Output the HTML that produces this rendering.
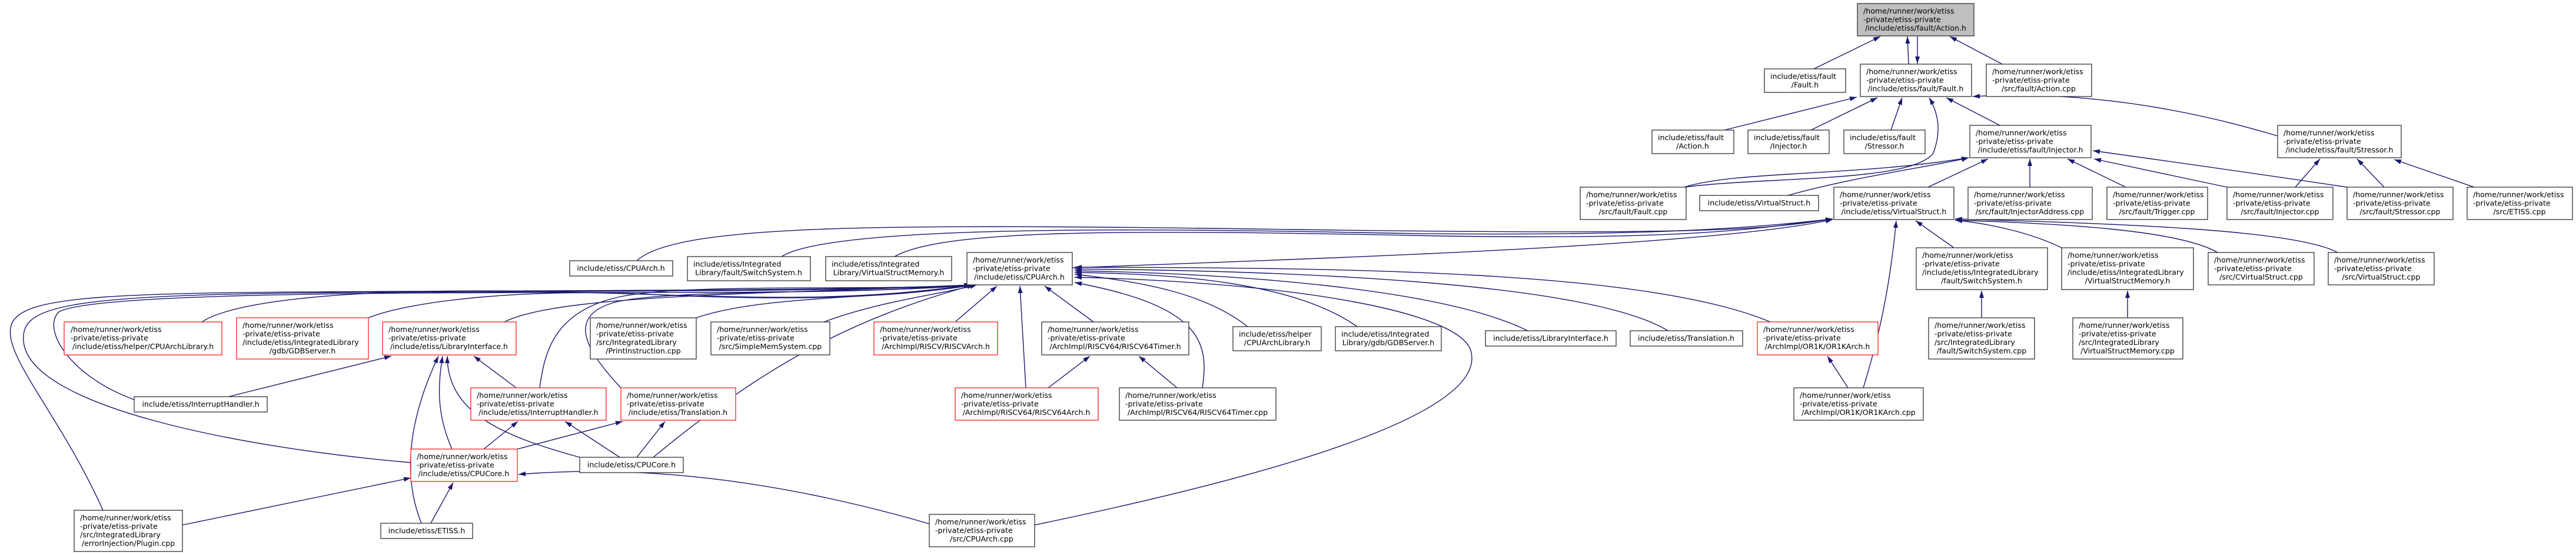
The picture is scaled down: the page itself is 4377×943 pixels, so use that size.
<!DOCTYPE html>
<html><head><meta charset="utf-8"><style>
html,body{margin:0;padding:0;background:#fff;}
svg{display:block;}
text{font-family:"DejaVu Sans","Liberation Sans",sans-serif;font-size:12.6px;fill:#000;}
.c{text-anchor:middle;}
.b{fill:#fff;stroke:#333;stroke-width:1.3;}
.r{fill:#fff;stroke:#ff3030;stroke-width:1.4;}
.g{fill:#bfbfbf;stroke:#333;stroke-width:1.3;}
path.e{fill:none;stroke:#191970;stroke-width:1.4;marker-end:url(#a);}
</style></head><body>
<svg width="4377" height="943" viewBox="0 0 4377 943" xmlns="http://www.w3.org/2000/svg">
<defs><marker id="a" markerUnits="userSpaceOnUse" markerWidth="12" markerHeight="8" refX="12" refY="4" orient="auto"><path d="M0,0 L12,4 L0,8 z" fill="#191970"/></marker></defs>

<!-- edges -->
<path class="e" d="M3082,117 L3195,62"/>
<path class="e" d="M3243,109 L3241,62"/>
<path class="e" d="M3258,62 L3258,108"/>
<path class="e" d="M3402,109 L3313,62"/>
<path class="e" d="M2930,221 L3155,165"/>
<path class="e" d="M3077,221 L3190,166"/>
<path class="e" d="M3213,221 L3232,166"/>
<path class="e" d="M3398,213 L3307,166"/>
<path class="e" d="M3870,231 Q3600,150 3352,164"/>
<path class="e" d="M2862,318 C3000,300 3250,310 3285,260 C3300,220 3292,190 3278,166"/>
<path class="e" d="M2862,318 C2950,290 3150,300 3345,268"/>
<path class="e" d="M3038,332 C3150,300 3300,280 3345,268"/>
<path class="e" d="M3276,318 L3378,270"/>
<path class="e" d="M3449,318 L3449,270"/>
<path class="e" d="M3612,318 L3513,270"/>
<path class="e" d="M3784,318 L3558,270"/>
<path class="e" d="M3988,318 Q3800,290 3556,256"/>
<path class="e" d="M3900,318 L3942,270"/>
<path class="e" d="M4051,318 L4005,270"/>
<path class="e" d="M4204,318 L4068,271"/>

<path class="e" d="M1082,443 C1150,380 1500,380 2200,390 S3000,390 3114,372"/>
<path class="e" d="M1328,436 C1400,390 1800,385 2300,395 S3000,385 3114,372"/>
<path class="e" d="M1520,436 C1600,390 1900,390 2400,400 S3000,385 3114,372"/>
<path class="e" d="M1822,455 C2200,440 2900,420 3114,373"/>
<path class="e" d="M3166,659 C3190,580 3210,500 3222,375"/>
<path class="e" d="M3320,421 L3255,375"/>
<path class="e" d="M3503,421 C3450,395 3380,380 3322,374"/>
<path class="e" d="M3768,429 C3700,390 3500,380 3322,374"/>
<path class="e" d="M3972,429 C3900,390 3600,380 3322,372"/>

<path class="e" d="M343,547 C400,510 600,490 900,495 S1400,520 1650,484"/>
<path class="e" d="M626,540 C700,510 900,490 1100,500 S1500,510 1652,484"/>
<path class="e" d="M857,547 C950,500 1300,500 1654,484"/>
<path class="e" d="M1183,540 C1300,500 1500,510 1656,484"/>
<path class="e" d="M1400,547 C1500,510 1600,500 1660,484"/>
<path class="e" d="M228,679 C120,640 70,560 100,530 C150,500 600,497 1000,497 S1500,495 1650,484"/>
<path class="e" d="M698,786 C400,760 50,690 40,580 C35,520 100,500 600,497 S1500,495 1650,484"/>
<path class="e" d="M175,867 C100,700 0,600 20,550 C40,500 200,497 700,495 S1500,492 1650,484"/>
<path class="e" d="M917,659 C925,600 940,530 1050,505 S1500,495 1652,484"/>
<path class="e" d="M1055,659 C1000,600 960,540 1040,515 S1500,500 1652,484"/>
<path class="e" d="M1110,777 C1300,620 1450,540 1655,484"/>
<path class="e" d="M1623,547 L1694,486"/>
<path class="e" d="M1743,659 L1733,486"/>
<path class="e" d="M1858,547 L1775,486"/>
<path class="e" d="M2043,659 C2055,580 2040,520 1826,480"/>
<path class="e" d="M1758,892 C2200,800 2520,700 2500,600 C2490,530 2200,480 1826,471"/>
<path class="e" d="M2120,555 C2050,500 1950,480 1826,466"/>
<path class="e" d="M2306,555 C2200,480 2000,465 1826,463"/>
<path class="e" d="M2596,562 C2450,490 2100,465 1826,460"/>
<path class="e" d="M2834,562 C2700,480 2200,460 1826,457"/>
<path class="e" d="M3008,547 C2800,460 2300,455 1826,454"/>

<path class="e" d="M716,889 C680,800 700,700 745,605"/>
<path class="e" d="M732,889 L770,820"/>
<path class="e" d="M768,763 C740,700 745,650 752,605"/>
<path class="e" d="M388,674 L665,605"/>
<path class="e" d="M877,659 L805,605"/>
<path class="e" d="M985,777 C850,740 760,700 760,605"/>
<path class="e" d="M822,763 L880,716"/>
<path class="e" d="M1053,777 L960,716"/>
<path class="e" d="M1082,777 L1130,716"/>
<path class="e" d="M879,763 L1058,716"/>
<path class="e" d="M310,892 L698,812"/>
<path class="e" d="M1579,890 Q1200,780 881,806"/>
<path class="e" d="M1781,659 L1852,605"/>
<path class="e" d="M2000,659 L1935,605"/>
<path class="e" d="M3140,659 L3105,605"/>
<path class="e" d="M3367,540 L3367,494"/>
<path class="e" d="M3615,540 L3615,494"/>

<!-- nodes -->
<rect class="g" x="3156" y="6" width="198" height="55"/>
<text x="3166" y="23">/home/runner/work/etiss</text><text x="3166" y="37.5">-private/etiss-private</text><text x="3255" y="52" class="c">/include/etiss/fault/Action.h</text>

<rect class="b" x="2998" y="117" width="138" height="40"/>
<text x="3008" y="134">include/etiss/fault</text><text x="3067" y="148.5" class="c">/Fault.h</text>

<rect class="b" x="3161" y="109" width="189" height="55"/>
<text x="3171" y="126">/home/runner/work/etiss</text><text x="3171" y="140.5">-private/etiss-private</text><text x="3255" y="155" class="c">/include/etiss/fault/Fault.h</text>

<rect class="b" x="3375" y="109" width="179" height="55"/>
<text x="3385" y="126">/home/runner/work/etiss</text><text x="3385" y="140.5">-private/etiss-private</text><text x="3464" y="155" class="c">/src/fault/Action.cpp</text>

<rect class="b" x="2807" y="221" width="139" height="40"/>
<text x="2817" y="238">include/etiss/fault</text><text x="2876" y="252.5" class="c">/Action.h</text>
<rect class="b" x="2970" y="221" width="138" height="40"/>
<text x="2980" y="238">include/etiss/fault</text><text x="3039" y="252.5" class="c">/Injector.h</text>
<rect class="b" x="3133" y="221" width="138" height="40"/>
<text x="3143" y="238">include/etiss/fault</text><text x="3202" y="252.5" class="c">/Stressor.h</text>

<rect class="b" x="3347" y="213" width="206" height="55"/>
<text x="3357" y="230">/home/runner/work/etiss</text><text x="3357" y="244.5">-private/etiss-private</text><text x="3450" y="259" class="c">/include/etiss/fault/Injector.h</text>
<rect class="b" x="3870" y="213" width="210" height="55"/>
<text x="3880" y="230">/home/runner/work/etiss</text><text x="3880" y="244.5">-private/etiss-private</text><text x="3975" y="259" class="c">/include/etiss/fault/Stressor.h</text>

<rect class="b" x="2685" y="318" width="180" height="55"/>
<text x="2695" y="335">/home/runner/work/etiss</text><text x="2695" y="349.5">-private/etiss-private</text><text x="2775" y="364" class="c">/src/fault/Fault.cpp</text>
<rect class="b" x="2888" y="332" width="202" height="26"/>
<text x="2989" y="349" class="c">include/etiss/VirtualStruct.h</text>
<rect class="b" x="3116" y="318" width="204" height="55"/>
<text x="3126" y="335">/home/runner/work/etiss</text><text x="3126" y="349.5">-private/etiss-private</text><text x="3218" y="364" class="c">/include/etiss/VirtualStruct.h</text>
<rect class="b" x="3344" y="318" width="211" height="55"/>
<text x="3354" y="335">/home/runner/work/etiss</text><text x="3354" y="349.5">-private/etiss-private</text><text x="3449" y="364" class="c">/src/fault/InjectorAddress.cpp</text>
<rect class="b" x="3580" y="318" width="171" height="55"/>
<text x="3590" y="335">/home/runner/work/etiss</text><text x="3590" y="349.5">-private/etiss-private</text><text x="3665" y="364" class="c">/src/fault/Trigger.cpp</text>
<rect class="b" x="3784" y="318" width="180" height="55"/>
<text x="3794" y="335">/home/runner/work/etiss</text><text x="3794" y="349.5">-private/etiss-private</text><text x="3874" y="364" class="c">/src/fault/Injector.cpp</text>
<rect class="b" x="3988" y="318" width="180" height="55"/>
<text x="3998" y="335">/home/runner/work/etiss</text><text x="3998" y="349.5">-private/etiss-private</text><text x="4078" y="364" class="c">/src/fault/Stressor.cpp</text>
<rect class="b" x="4192" y="318" width="179" height="55"/>
<text x="4202" y="335">/home/runner/work/etiss</text><text x="4202" y="349.5">-private/etiss-private</text><text x="4281" y="364" class="c">/src/ETISS.cpp</text>

<rect class="b" x="968" y="443" width="175" height="26"/>
<text x="1055" y="460" class="c">include/etiss/CPUArch.h</text>
<rect class="b" x="1168" y="436" width="209" height="41"/>
<text x="1178" y="453">include/etiss/Integrated</text><text x="1272" y="467.5" class="c">Library/fault/SwitchSystem.h</text>
<rect class="b" x="1403" y="436" width="214" height="41"/>
<text x="1413" y="453">include/etiss/Integrated</text><text x="1510" y="467.5" class="c">Library/VirtualStructMemory.h</text>
<rect class="b" x="1643" y="429" width="179" height="55"/>
<text x="1653" y="446">/home/runner/work/etiss</text><text x="1653" y="460.5">-private/etiss-private</text><text x="1732" y="475" class="c">/include/etiss/CPUArch.h</text>
<rect class="b" x="3256" y="421" width="223" height="71"/>
<text x="3266" y="438">/home/runner/work/etiss</text><text x="3266" y="452.5">-private/etiss-private</text><text x="3266" y="467">/include/etiss/IntegratedLibrary</text><text x="3367" y="481.5" class="c">/fault/SwitchSystem.h</text>
<rect class="b" x="3503" y="421" width="224" height="71"/>
<text x="3513" y="438">/home/runner/work/etiss</text><text x="3513" y="452.5">-private/etiss-private</text><text x="3513" y="467">/include/etiss/IntegratedLibrary</text><text x="3615" y="481.5" class="c">/VirtualStructMemory.h</text>
<rect class="b" x="3752" y="429" width="180" height="55"/>
<text x="3762" y="446">/home/runner/work/etiss</text><text x="3762" y="460.5">-private/etiss-private</text><text x="3842" y="475" class="c">/src/CVirtualStruct.cpp</text>
<rect class="b" x="3956" y="429" width="180" height="55"/>
<text x="3966" y="446">/home/runner/work/etiss</text><text x="3966" y="460.5">-private/etiss-private</text><text x="4046" y="475" class="c">/src/VirtualStruct.cpp</text>

<rect class="r" x="109" y="547" width="268" height="56"/>
<text x="120" y="564">/home/runner/work/etiss</text><text x="120" y="578.5">-private/etiss-private</text><text x="243" y="593" class="c">/include/etiss/helper/CPUArchLibrary.h</text>
<rect class="r" x="402" y="540" width="224" height="70"/>
<text x="412" y="557">/home/runner/work/etiss</text><text x="412" y="571.5">-private/etiss-private</text><text x="412" y="586">/include/etiss/IntegratedLibrary</text><text x="514" y="600.5" class="c">/gdb/GDBServer.h</text>
<rect class="r" x="650" y="547" width="227" height="56"/>
<text x="660" y="564">/home/runner/work/etiss</text><text x="660" y="578.5">-private/etiss-private</text><text x="763" y="593" class="c">/include/etiss/LibraryInterface.h</text>
<rect class="b" x="1003" y="540" width="180" height="70"/>
<text x="1013" y="557">/home/runner/work/etiss</text><text x="1013" y="571.5">-private/etiss-private</text><text x="1013" y="586">/src/IntegratedLibrary</text><text x="1093" y="600.5" class="c">/PrintInstruction.cpp</text>
<rect class="b" x="1208" y="547" width="202" height="56"/>
<text x="1218" y="564">/home/runner/work/etiss</text><text x="1218" y="578.5">-private/etiss-private</text><text x="1309" y="593" class="c">/src/SimpleMemSystem.cpp</text>
<rect class="r" x="1485" y="547" width="210" height="56"/>
<text x="1495" y="564">/home/runner/work/etiss</text><text x="1495" y="578.5">-private/etiss-private</text><text x="1590" y="593" class="c">/ArchImpl/RISCV/RISCVArch.h</text>
<rect class="b" x="1770" y="547" width="250" height="56"/>
<text x="1780" y="564">/home/runner/work/etiss</text><text x="1780" y="578.5">-private/etiss-private</text><text x="1895" y="593" class="c">/ArchImpl/RISCV64/RISCV64Timer.h</text>
<rect class="b" x="2095" y="555" width="150" height="41"/>
<text x="2105" y="572">include/etiss/helper</text><text x="2170" y="586.5" class="c">/CPUArchLibrary.h</text>
<rect class="b" x="2269" y="555" width="180" height="41"/>
<text x="2279" y="572">include/etiss/Integrated</text><text x="2359" y="586.5" class="c">Library/gdb/GDBServer.h</text>
<rect class="b" x="2524" y="562" width="222" height="26"/>
<text x="2635" y="579" class="c">include/etiss/LibraryInterface.h</text>
<rect class="b" x="2770" y="562" width="191" height="26"/>
<text x="2865" y="579" class="c">include/etiss/Translation.h</text>
<rect class="r" x="2986" y="547" width="205" height="56"/>
<text x="2996" y="564">/home/runner/work/etiss</text><text x="2996" y="578.5">-private/etiss-private</text><text x="3088" y="593" class="c">/ArchImpl/OR1K/OR1KArch.h</text>
<rect class="b" x="3277" y="540" width="180" height="70"/>
<text x="3287" y="557">/home/runner/work/etiss</text><text x="3287" y="571.5">-private/etiss-private</text><text x="3287" y="586">/src/IntegratedLibrary</text><text x="3367" y="600.5" class="c">/fault/SwitchSystem.cpp</text>
<rect class="b" x="3522" y="540" width="187" height="70"/>
<text x="3532" y="557">/home/runner/work/etiss</text><text x="3532" y="571.5">-private/etiss-private</text><text x="3532" y="586">/src/IntegratedLibrary</text><text x="3615" y="600.5" class="c">/VirtualStructMemory.cpp</text>

<rect class="b" x="228" y="674" width="226" height="26"/>
<text x="341" y="691" class="c">include/etiss/InterruptHandler.h</text>
<rect class="r" x="800" y="659" width="230" height="55"/>
<text x="810" y="676">/home/runner/work/etiss</text><text x="810" y="690.5">-private/etiss-private</text><text x="915" y="705" class="c">/include/etiss/InterruptHandler.h</text>
<rect class="r" x="1055" y="659" width="195" height="55"/>
<text x="1065" y="676">/home/runner/work/etiss</text><text x="1065" y="690.5">-private/etiss-private</text><text x="1152" y="705" class="c">/include/etiss/Translation.h</text>
<rect class="r" x="1623" y="659" width="243" height="55"/>
<text x="1633" y="676">/home/runner/work/etiss</text><text x="1633" y="690.5">-private/etiss-private</text><text x="1744" y="705" class="c">/ArchImpl/RISCV64/RISCV64Arch.h</text>
<rect class="b" x="1902" y="659" width="266" height="55"/>
<text x="1912" y="676">/home/runner/work/etiss</text><text x="1912" y="690.5">-private/etiss-private</text><text x="2035" y="705" class="c">/ArchImpl/RISCV64/RISCV64Timer.cpp</text>
<rect class="b" x="3048" y="659" width="220" height="55"/>
<text x="3058" y="676">/home/runner/work/etiss</text><text x="3058" y="690.5">-private/etiss-private</text><text x="3158" y="705" class="c">/ArchImpl/OR1K/OR1KArch.cpp</text>

<rect class="b" x="985" y="777" width="176" height="26"/>
<text x="1073" y="794" class="c">include/etiss/CPUCore.h</text>
<rect class="r" x="698" y="763" width="181" height="55"/>
<text x="708" y="780">/home/runner/work/etiss</text><text x="708" y="794.5">-private/etiss-private</text><text x="788" y="809" class="c">/include/etiss/CPUCore.h</text>

<rect class="b" x="126" y="867" width="184" height="70"/>
<text x="136" y="884">/home/runner/work/etiss</text><text x="136" y="898.5">-private/etiss-private</text><text x="136" y="913">/src/IntegratedLibrary</text><text x="218" y="927.5" class="c">/errorInjection/Plugin.cpp</text>
<rect class="b" x="647" y="889" width="156" height="26"/>
<text x="725" y="906" class="c">include/etiss/ETISS.h</text>
<rect class="b" x="1579" y="874" width="179" height="55"/>
<text x="1589" y="891">/home/runner/work/etiss</text><text x="1589" y="905.5">-private/etiss-private</text><text x="1668" y="920" class="c">/src/CPUArch.cpp</text>
</svg>
</body></html>
